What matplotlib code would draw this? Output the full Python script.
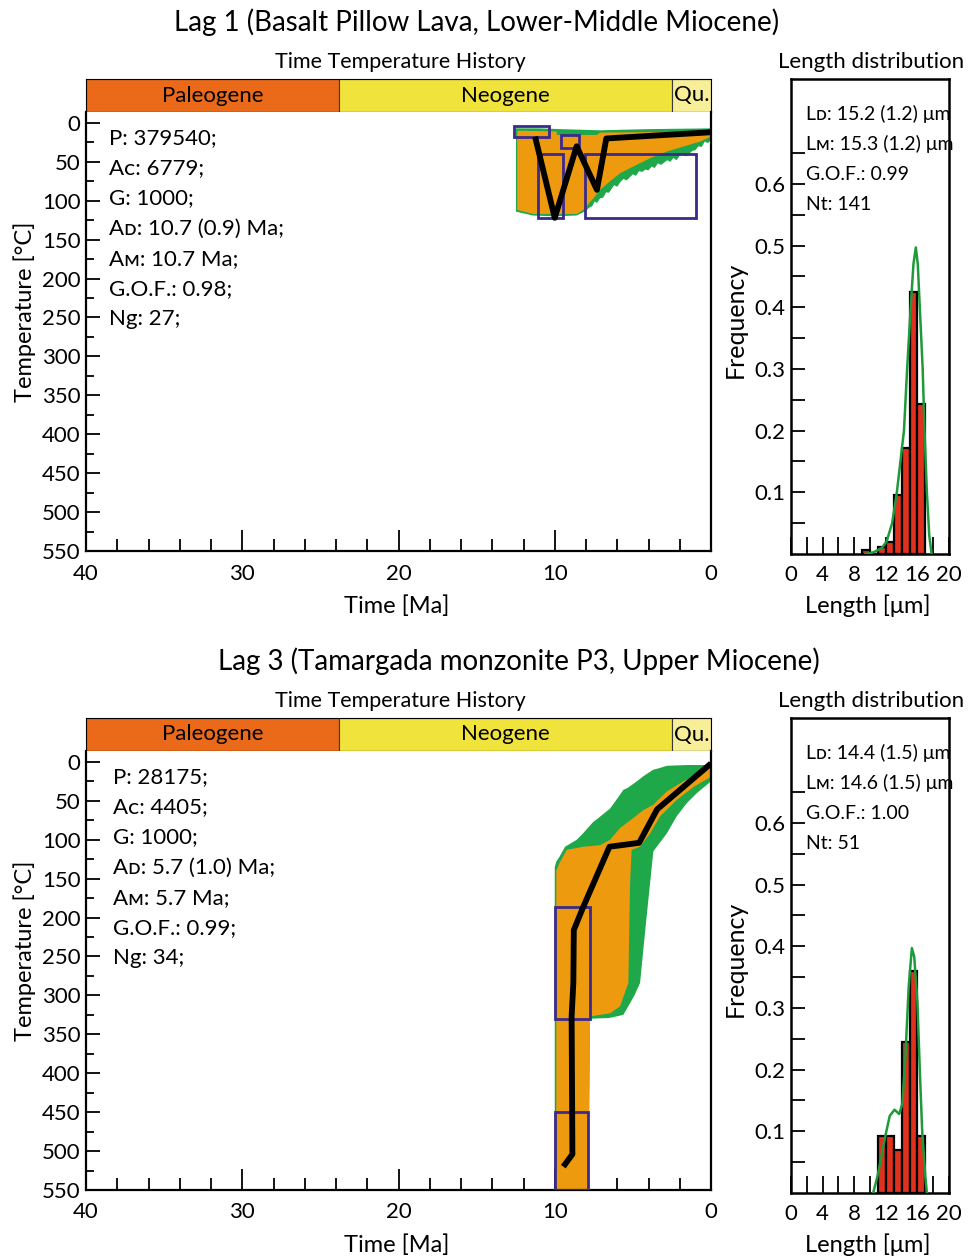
import numpy as np
import matplotlib
matplotlib.use('Agg')
import matplotlib.pyplot as plt
from matplotlib.patches import Rectangle
from matplotlib.ticker import MultipleLocator

plt.rcParams['font.family'] = ['Lato', 'DejaVu Sans']

W, H = 976, 1257

# ---------------- data ----------------
periods = ['Paleogene', 'Neogene', 'Qu.']
period_old = [40.0, 23.8, 2.5]
period_young = [23.8, 2.5, 0.0]
period_colors = ['#EA6A1A', '#F0E43C', '#F8EE98']

titles = ['Lag 1 (Basalt Pillow Lava, Lower-Middle Miocene)',
          'Lag 3 (Tamargada monzonite P3, Upper Miocene)']

stats1 = ['P: 379540;', 'Aᴄ: 6779;', 'G: 1000;', 'Aᴅ: 10.7 (0.9) Ma;',
          'Aᴍ: 10.7 Ma;', 'G.O.F.: 0.98;', 'Ng: 27;']
stats3 = ['P: 28175;', 'Aᴄ: 4405;', 'G: 1000;', 'Aᴅ: 5.7 (1.0) Ma;',
          'Aᴍ: 5.7 Ma;', 'G.O.F.: 0.99;', 'Ng: 34;']
hstats1 = ['Lᴅ: 15.2 (1.2) μm', 'Lᴍ: 15.3 (1.2) μm', 'G.O.F.: 0.99', 'Nt: 141']
hstats3 = ['Lᴅ: 14.4 (1.5) μm', 'Lᴍ: 14.6 (1.5) μm', 'G.O.F.: 1.00', 'Nt: 51']

# Lag 1 envelopes (time Ma, temperature C)
acc1_up_t = [12.48, 11.0, 9.66, 7.1, 4.0, 0.0]
acc1_up_T = [7, 7, 8, 9.5, 8, 7]
acc1_lo_t = [0.0, 0.2, 0.4, 0.6, 0.8, 1.0, 1.2, 1.4, 1.6, 1.8, 2.0, 2.2, 2.4, 2.6, 2.8,
             3.0, 3.2, 3.4, 3.6, 3.8, 4.0, 4.2, 4.4, 4.6, 4.8, 5.0, 5.2, 5.4, 5.6, 5.8,
             6.0, 6.2, 6.4, 6.55, 6.7, 6.9, 7.1, 7.3, 7.45, 7.6, 7.8, 8.0, 8.4, 8.6,
             10.0, 11.4, 12.48]
acc1_lo_T = [22, 26, 24, 31, 30, 35, 36, 40, 43, 41, 42, 48, 45, 50, 48,
             51, 54, 52, 58, 56, 61, 60, 63, 62, 68, 66, 70, 74, 72, 76,
             82, 80, 86, 90, 89, 96, 97, 103, 101, 107, 109, 113, 117, 119,
             120, 119, 114]
good1_up_t = [12.4, 9.9, 9.85, 7.3, 7.1, 0.0]
good1_up_T = [10, 11, 15.5, 15.5, 12.5, 11]
good1_lo_t = [0.0, 0.7, 1.77, 2.83, 3.9, 4.97, 5.82, 6.46, 7.1, 7.53, 8.17, 8.59, 11.37, 12.4]
good1_lo_T = [17.6, 24, 30.4, 36.8, 45.4, 56, 64.7, 75, 86, 97, 111.8, 117, 117, 111.8]
best1_t = [11.26, 10.0, 8.6, 7.3, 6.7, 0.0]
best1_T = [17.6, 122, 30, 86, 20, 12]
box1_old = [12.6, 11.1, 9.6, 8.06]
box1_young = [10.4, 9.45, 8.45, 0.96]
box1_Tmin = [4, 40, 15, 40]
box1_Tmax = [18, 122, 32, 122]

# Lag 3 envelopes
acc3_up_t = [10.0, 9.9, 9.7, 9.34, 8.59, 8.2, 7.53, 7.2, 6.46, 6.1, 5.61, 5.3, 4.75, 4.3, 3.69, 3.3, 2.83, 1.5, 0.0]
acc3_up_T = [135, 128, 122, 109, 100, 92, 77, 72, 60, 50, 36, 33, 25, 18, 10, 8, 5, 4, 4]
acc3_lo_t = [0.0, 0.9, 1.55, 2.2, 2.83, 3.47, 3.69, 3.9, 4.12, 4.33, 4.54, 4.9, 5.18, 5.61, 6.5, 7.74, 7.85, 10.0]
acc3_lo_T = [25, 40, 53, 70, 92, 109, 115, 156, 199, 241, 284, 300, 310, 325, 329, 330, 550, 550]
good3_up_t = [9.9, 9.7, 9.23, 8.17, 7.1, 6.46, 5.82, 4.97, 4.33, 3.69, 2.83, 1.77, 0.7, 0.0]
good3_up_T = [140, 130, 113, 109, 107, 100, 85, 72, 62, 55, 38, 25, 15, 6]
good3_lo_t = [0.0, 1.1, 2.2, 3.26, 3.9, 4.54, 5.08, 5.18, 5.29, 5.82, 6.46, 7.74, 7.85, 9.9]
good3_lo_T = [19, 32, 49, 70, 92, 109, 113, 156, 284, 314, 323, 327, 550, 550]
best3_t = [9.45, 8.87, 8.92, 8.81, 8.78, 8.17, 6.5, 4.6, 3.45, 0.0]
best3_T = [520, 504, 327, 284, 216, 186, 109, 104, 61, 2]
box3_old = [10.0, 10.0]
box3_young = [7.75, 7.9]
box3_Tmin = [187, 450]
box3_Tmax = [330, 550]

# Length histograms (bin left edges in um, frequency)
hist1_left = [9, 10, 11, 12, 13, 14, 15, 16]
hist1_freq = [0.007, 0.0, 0.012, 0.019, 0.095, 0.172, 0.425, 0.243]
curve1_x = [9.4, 10.5, 11.5, 12.1, 12.8, 13.4, 14.3, 14.7, 15.15, 15.5, 15.8, 16.05, 16.3, 16.67, 16.9, 17.2, 17.5, 17.8]
curve1_y = [0.0, 0.003, 0.01, 0.02, 0.05, 0.1, 0.2, 0.3, 0.4, 0.47, 0.497, 0.47, 0.4, 0.3, 0.2, 0.1, 0.03, 0.0]

hist3_left = [11, 12, 13, 14, 15, 16]
hist3_freq = [0.092, 0.092, 0.07, 0.245, 0.36, 0.092]
curve3_x = [10.4, 11.0, 11.9, 12.5, 13.1, 13.7, 14.1, 14.5, 14.9, 15.3, 15.6, 16.0, 16.3, 16.6, 17.0, 17.2]
curve3_y = [0.0, 0.03, 0.09, 0.125, 0.135, 0.128, 0.145, 0.227, 0.335, 0.397, 0.383, 0.31, 0.2, 0.102, 0.027, 0.0]

# ---------------- drawing ----------------
ORANGE = '#EE9A0E'
GREEN = '#1EA84A'
BOXC = '#3B2A8C'
RED = '#E0301E'
CURVE = '#1E9A3A'

fig = plt.figure(figsize=(W / 100, H / 100), dpi=100)


def rect(x0, y0, x1, y1):
    return [x0 / W, 1 - y1 / H, (x1 - x0) / W, (y1 - y0) / H]


def ftext(x, y, s, **kw):
    fig.text(x / W, 1 - y / H, s, **kw)


FS = 16
LFS = 17


def panel(off, title, title_x, stats, stats_x, hstats,
          acc_up, acc_lo, good_up, good_lo, best, boxes,
          hleft, hfreq, cx, cy):
    ftext(title_x, 22 + off, title, ha='center', va='center', fontsize=20)
    ftext(400, 62 + off, 'Time Temperature History', ha='center', va='center', fontsize=15.5)
    ftext(871, 62 + off, 'Length distribution', ha='center', va='center', fontsize=16)

    # period bar
    axb = fig.add_axes(rect(86, 79 + off, 711, 112 + off))
    for name, o, y, c in zip(periods, period_old, period_young, period_colors):
        axb.barh(0, o - y, left=y, height=1, color=c, edgecolor='#3a3a3a', linewidth=0.8)
        axb.text((o + y) / 2, 0, name, ha='center', va='center', fontsize=16)
    axb.set_xlim(40, 0)
    axb.set_ylim(-0.5, 0.5)
    axb.set_xticks([])
    axb.set_yticks([])
    for s in axb.spines.values():
        s.set_linewidth(0.8)

    # time-temperature axes
    ax = fig.add_axes(rect(86, 112 + off, 711, 551 + off))
    ax.fill(list(acc_up[0]) + list(acc_lo[0]), list(acc_up[1]) + list(acc_lo[1]),
            color=GREEN, lw=0, zorder=1)
    ax.fill(list(good_up[0]) + list(good_lo[0]), list(good_up[1]) + list(good_lo[1]),
            color=ORANGE, lw=0, zorder=2)
    for o, y, tmin, tmax in zip(*boxes):
        ax.add_patch(Rectangle((y, tmin), o - y, tmax - tmin, fill=False,
                               edgecolor=BOXC, linewidth=2.0, zorder=3))
    ax.plot(best[0], best[1], color='black', lw=4.2, zorder=4, solid_capstyle='butt')
    ax.set_xlim(40, 0)
    ax.set_ylim(550, -14)
    ax.xaxis.set_major_locator(MultipleLocator(10))
    ax.xaxis.set_minor_locator(MultipleLocator(2))
    ax.yaxis.set_major_locator(MultipleLocator(50))
    ax.yaxis.set_minor_locator(MultipleLocator(25))
    ax.tick_params(axis='x', which='major', direction='in', length=15, width=1.3,
                   labelsize=FS, pad=9)
    ax.tick_params(axis='x', which='minor', direction='in', length=9, width=1.3)
    ax.tick_params(axis='y', which='major', direction='in', length=10, width=1.3,
                   labelsize=FS, pad=4)
    ax.tick_params(axis='y', which='minor', direction='in', length=6, width=1.3)
    for s in ax.spines.values():
        s.set_linewidth(1.6)
    ax.spines['top'].set_visible(False)

    for i, s in enumerate(stats):
        ftext(stats_x, 138 + off + 30.2 * i, s, ha='left', va='center', fontsize=16)

    ftext(25, 312 + off, 'Temperature [°C]', rotation=90, ha='center', va='center', fontsize=LFS)
    ftext(397, 606 + off, 'Time [Ma]', ha='center', va='center', fontsize=LFS)

    # histogram
    axh = fig.add_axes(rect(791, 79 + off, 949, 554 + off))
    axh.bar(hleft, hfreq, width=1.0, align='edge', color=RED, edgecolor='black',
            linewidth=1.6, zorder=2)
    axh.plot(cx, cy, color=CURVE, lw=1.8, zorder=3)
    axh.set_xlim(0, 20)
    axh.set_ylim(0, 0.77)
    axh.set_xticks([0, 4, 8, 12, 16, 20])
    axh.xaxis.set_minor_locator(MultipleLocator(2))
    axh.set_yticks([0.1, 0.2, 0.3, 0.4, 0.5, 0.6])
    axh.set_yticks([0.05, 0.15, 0.25, 0.35, 0.45, 0.55, 0.65], minor=True)
    axh.tick_params(axis='x', which='both', direction='in', length=12, width=1.3,
                    labelsize=FS, pad=8)
    axh.tick_params(axis='y', which='major', direction='in', length=10, width=1.3,
                    labelsize=FS, pad=4)
    axh.tick_params(axis='y', which='minor', direction='in', length=10, width=1.3)
    for s in axh.spines.values():
        s.set_linewidth(1.8)
    for i, s in enumerate(hstats):
        ftext(806, 114 + off + 30.3 * i, s, ha='left', va='center', fontsize=14)
    ftext(735, 320 + off, 'Frequency', rotation=90, ha='center', va='center', fontsize=18)
    ftext(868, 606 + off, 'Length [μm]', ha='center', va='center', fontsize=LFS)


panel(0, titles[0], 477, stats1, 109, hstats1,
      (acc1_up_t, acc1_up_T), (acc1_lo_t, acc1_lo_T),
      (good1_up_t, good1_up_T), (good1_lo_t, good1_lo_T),
      (best1_t, best1_T), (box1_old, box1_young, box1_Tmin, box1_Tmax),
      hist1_left, hist1_freq, curve1_x, curve1_y)

panel(639, titles[1], 519, stats3, 113, hstats3,
      (acc3_up_t, acc3_up_T), (acc3_lo_t, acc3_lo_T),
      (good3_up_t, good3_up_T), (good3_lo_t, good3_lo_T),
      (best3_t, best3_T), (box3_old, box3_young, box3_Tmin, box3_Tmax),
      hist3_left, hist3_freq, curve3_x, curve3_y)

fig.savefig('out.png', dpi=100)
